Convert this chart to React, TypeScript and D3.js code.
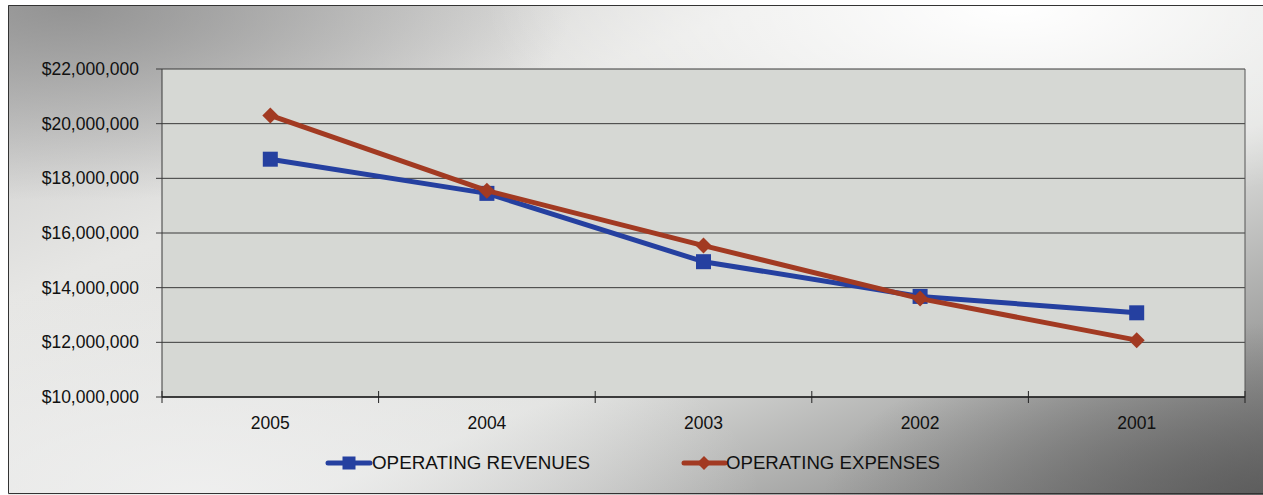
import React from "react";
import * as d3 from "d3";

const years = ["2005", "2004", "2003", "2002", "2001"];
const revenues = [18700000, 17450000, 14950000, 13680000, 13080000];
const expenses = [20300000, 17550000, 15540000, 13600000, 12080000];
const yTicks = [10000000, 12000000, 14000000, 16000000, 18000000, 20000000, 22000000];
const seriesNames = ["OPERATING REVENUES", "OPERATING EXPENSES"];

const W = 1263, H = 495;
const plot = { left: 162, right: 1245, top: 69, bottom: 397 };
const BLUE = "#2540a0";
const RED = "#a23a22";

export default function App() {
  const x = d3.scaleBand<string>().domain(years).range([plot.left, plot.right]);
  const y = d3.scaleLinear().domain([10000000, 22000000]).range([plot.bottom, plot.top]);
  const cx = (i: number) => (x(years[i]) as number) + x.bandwidth() / 2;
  const line = d3.line<number>().x((_, i) => cx(i)).y((v) => y(v));
  const fmt = (v: number) => "$" + d3.format(",")(v);
  const font = "'Liberation Sans', Arial, sans-serif";
  const tickXs = [...years.map((yr) => x(yr) as number), plot.right];

  const square = (px: number, py: number, s: number, c: string) => (
    <rect x={px - s / 2} y={py - s / 2} width={s} height={s} fill={c} />
  );
  const diamond = (px: number, py: number, s: number, c: string) => (
    <path d={`M${px},${py - s}L${px + s},${py}L${px},${py + s}L${px - s},${py}Z`} fill={c} />
  );

  return (
    <svg width={W} height={H} style={{ position: "absolute", left: 0, top: 0 }}>
      <defs>
        <linearGradient id="bg" x1="0" y1="0" x2="1" y2="1">
          <stop offset="0" stopColor="#c4c4c4" />
          <stop offset="0.3" stopColor="#e6e6e4" />
          <stop offset="0.62" stopColor="#e0e1df" />
          <stop offset="1" stopColor="#707070" />
        </linearGradient>
        <radialGradient id="tl" cx="0.05" cy="0.0" r="0.4" gradientTransform="translate(0,0) scale(1,1)">
          <stop offset="0" stopColor="#8a8a8a" stopOpacity="0.85" />
          <stop offset="1" stopColor="#8a8a8a" stopOpacity="0" />
        </radialGradient>
        <radialGradient id="tr" cx="0.8" cy="0.0" r="0.42">
          <stop offset="0" stopColor="#ffffff" stopOpacity="1" />
          <stop offset="1" stopColor="#ffffff" stopOpacity="0" />
        </radialGradient>
        <radialGradient id="bl" cx="0.15" cy="1" r="0.45">
          <stop offset="0" stopColor="#f2f2f2" stopOpacity="0.8" />
          <stop offset="1" stopColor="#f2f2f2" stopOpacity="0" />
        </radialGradient>
        <radialGradient id="br" cx="1" cy="1" r="0.35">
          <stop offset="0" stopColor="#555" stopOpacity="0.7" />
          <stop offset="1" stopColor="#555" stopOpacity="0" />
        </radialGradient>
      </defs>
      <rect x={8} y={5} width={W - 8} height={H - 5} fill="url(#bg)" />
      <rect x={8} y={5} width={W - 8} height={H - 5} fill="url(#tl)" />
      <rect x={8} y={5} width={W - 8} height={H - 5} fill="url(#tr)" />
      <rect x={8} y={5} width={W - 8} height={H - 5} fill="url(#bl)" />
      <rect x={8} y={5} width={W - 8} height={H - 5} fill="url(#br)" />
      <path d={`M${W},5.5H8.5V${H - 1.5}H${W}`} fill="none" stroke="#333" strokeWidth={1} />

      <rect x={plot.left} y={plot.top} width={plot.right - plot.left} height={plot.bottom - plot.top} fill="#d6d8d4" />
      {yTicks.map((t) => (
        <g key={t}>
          <line x1={plot.left - 6} x2={plot.right} y1={y(t)} y2={y(t)} stroke="#3a3a3a" strokeWidth={1} />
          <text x={plot.left - 23} y={y(t)} dy="0.35em" textAnchor="end" fontFamily={font} fontSize={17.5} fill="#111">
            {fmt(t)}
          </text>
        </g>
      ))}
      <line x1={plot.left} x2={plot.left} y1={plot.top} y2={plot.bottom} stroke="#3a3a3a" strokeWidth={1} />
      <line x1={plot.right} x2={plot.right} y1={plot.top} y2={plot.bottom} stroke="#555" strokeWidth={1} />
      <line x1={plot.left} x2={plot.right} y1={plot.bottom} y2={plot.bottom} stroke="#222" strokeWidth={1.5} />
      {tickXs.map((tx, i) => (
        <line key={i} x1={tx} x2={tx} y1={plot.bottom - 6} y2={plot.bottom + 6} stroke="#222" strokeWidth={1} />
      ))}
      {years.map((yr, i) => (
        <text key={yr} x={cx(i)} y={429} textAnchor="middle" fontFamily={font} fontSize={17.5} fill="#111">
          {yr}
        </text>
      ))}

      <path d={line(revenues) || ""} fill="none" stroke={BLUE} strokeWidth={5} strokeLinejoin="round" />
      {revenues.map((v, i) => <g key={"r" + i}>{square(cx(i), y(v), 15, BLUE)}</g>)}
      <path d={line(expenses) || ""} fill="none" stroke={RED} strokeWidth={5} strokeLinejoin="round" />
      {expenses.map((v, i) => <g key={"e" + i}>{diamond(cx(i), y(v), 8, RED)}</g>)}

      <g>
        <line x1={328} x2={370} y1={463} y2={463} stroke={BLUE} strokeWidth={5} strokeLinecap="round" />
        {square(349, 463, 13, BLUE)}
        <text x={372} y={463} dy="0.35em" fontFamily={font} fontSize={18} fill="#111" textLength={218} lengthAdjust="spacingAndGlyphs">{seriesNames[0]}</text>
        <line x1={684} x2={725} y1={463} y2={463} stroke={RED} strokeWidth={5} strokeLinecap="round" />
        {diamond(704, 463, 7, RED)}
        <text x={726} y={463} dy="0.35em" fontFamily={font} fontSize={18} fill="#111" textLength={214} lengthAdjust="spacingAndGlyphs">{seriesNames[1]}</text>
      </g>
    </svg>
  );
}
